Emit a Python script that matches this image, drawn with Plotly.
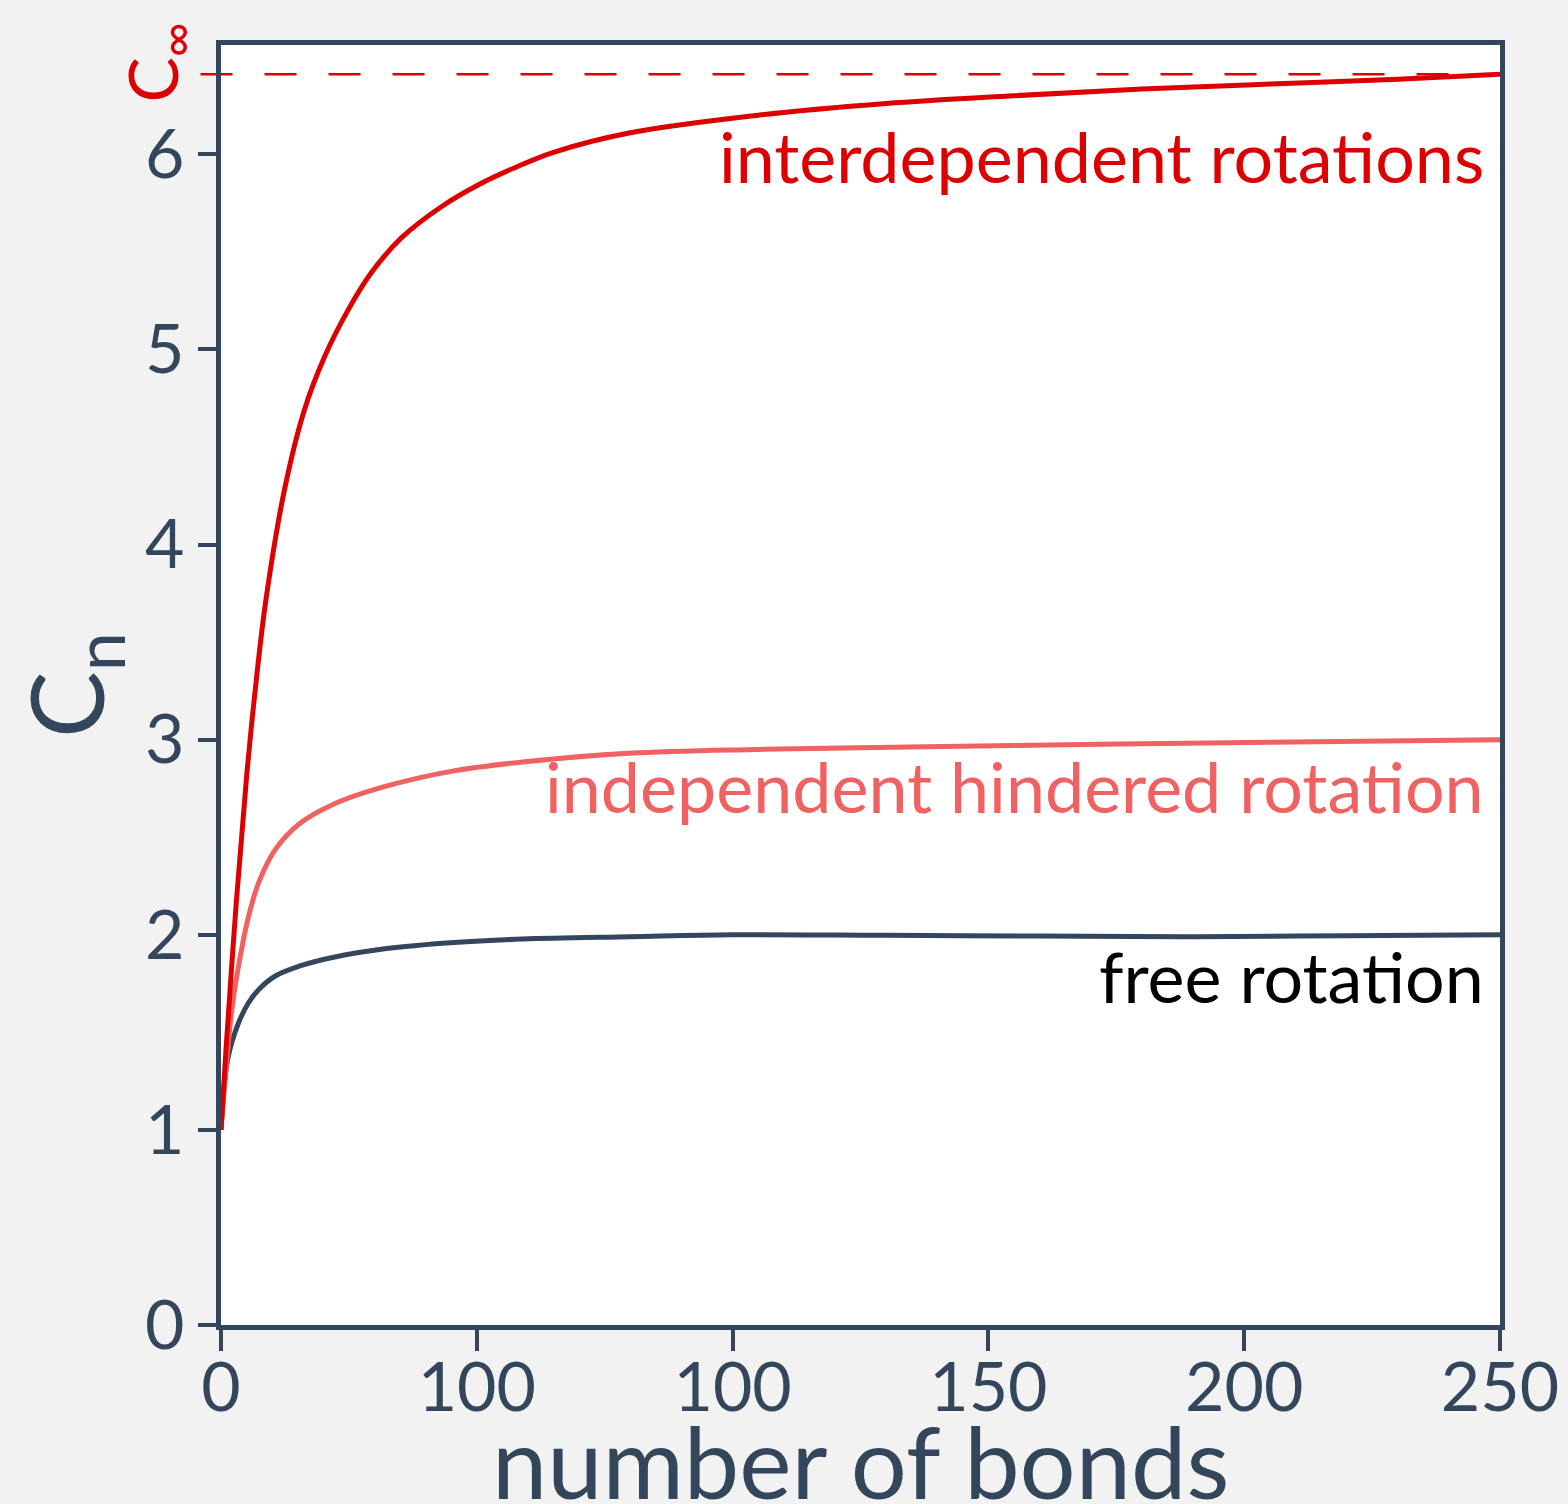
import plotly.graph_objects as go

# data
free_x = [0, 1.3, 3.3, 5.35, 7.4, 10.7, 15.4, 22, 32, 45.5, 59, 80, 100, 130, 160, 190, 220, 250]
free_y = [1.0, 1.36, 1.54, 1.65, 1.72, 1.79, 1.84, 1.885, 1.928, 1.96, 1.978, 1.99, 2.0, 1.997, 1.993, 1.99, 1.995, 2.0]

hind_x = [0, 2.0, 3.3, 5.35, 7.4, 10.7, 15.4, 22.1, 32.1, 45.5, 58.9, 79.7, 105, 155, 205, 250]
hind_y = [1.0, 1.59, 1.82, 2.09, 2.27, 2.44, 2.57, 2.67, 2.76, 2.84, 2.885, 2.93, 2.95, 2.97, 2.987, 3.0]

inter_x = [0, 1, 3, 5, 7, 8.8, 12.4, 16.3, 20.2, 24.8, 29.3, 35.2, 43.0, 50.8, 57.3, 65, 80, 105, 130,
           155, 180, 205, 230, 250]
inter_y = [1.0, 1.42, 2.17, 2.81, 3.33, 3.72, 4.28, 4.69, 4.96, 5.20, 5.39, 5.57, 5.73, 5.85, 5.93, 6.01, 6.11, 6.20,
           6.26, 6.30, 6.335, 6.36, 6.385, 6.41]

c_inf = 6.41

x_tickvals = [0, 50, 100, 150, 200, 250]
x_ticktext = ["0", "100", "100", "150", "200", "250"]
y_tickvals = [0, 1, 2, 3, 4, 5, 6]

DARK = "#34465c"
RED = "#dd0000"
PINK = "#f06262"
FONT = "Lato"

fig = go.Figure()
fig.add_trace(go.Scatter(x=free_x, y=free_y, mode="lines",
                         line=dict(color=DARK, width=5, shape="spline", smoothing=1.0), showlegend=False))
fig.add_trace(go.Scatter(x=hind_x, y=hind_y, mode="lines",
                         line=dict(color=PINK, width=5, shape="spline", smoothing=1.0), showlegend=False))
fig.add_trace(go.Scatter(x=inter_x, y=inter_y, mode="lines",
                         line=dict(color=RED, width=5, shape="spline", smoothing=1.0), showlegend=False))

fig.add_shape(type="line", xref="paper", yref="y", x0=-0.016, x1=1.0, y0=c_inf, y1=c_inf,
              line=dict(color=RED, width=2.5, dash="32px,32px"), layer="below")

fig.add_annotation(x=246.5, y=5.99, xref="x", yref="y", text="interdependent rotations", showarrow=False,
                   xanchor="right", yanchor="middle", xshift=4, font=dict(family=FONT, size=70, color=RED))
fig.add_annotation(x=246.5, y=2.76, xref="x", yref="y", text="independent hindered rotation", showarrow=False,
                   xanchor="right", yanchor="middle", xshift=4, font=dict(family=FONT, size=70, color=PINK))
fig.add_annotation(x=246.5, y=1.79, xref="x", yref="y", text="free rotation", showarrow=False,
                   xanchor="right", yanchor="middle", xshift=4, font=dict(family=FONT, size=70, color="#000000"))
fig.add_annotation(x=-0.05, y=6.47, xref="paper", yref="y", text="C<sub>∞</sub>", showarrow=False,
                   textangle=-90, xanchor="center", yanchor="middle", font=dict(family=FONT, size=68, color=RED))
fig.add_annotation(x=0.5, y=-0.1055, xref="paper", yref="paper", text="number of bonds", showarrow=False,
                   xanchor="center", yanchor="middle", font=dict(family=FONT, size=99, color=DARK))

fig.update_layout(
    width=1568, height=1504,
    paper_bgcolor="#f2f2f2", plot_bgcolor="#ffffff",
    margin=dict(l=221, r=68, t=45, b=179),
    font=dict(family=FONT, color=DARK),
    xaxis=dict(range=[0, 250], tickvals=x_tickvals, ticktext=x_ticktext, showgrid=False, zeroline=False,
               showline=True, linecolor=DARK, linewidth=5, mirror=True, ticks="outside", ticklen=21,
               tickwidth=4, tickcolor=DARK, tickfont=dict(size=68, color=DARK, family=FONT),
               ticklabelstandoff=-22, automargin=False),
    yaxis=dict(range=[0, 6.56], tickvals=y_tickvals, showgrid=False, zeroline=False,
               showline=True, linecolor=DARK, linewidth=5, mirror=True, ticks="outside", ticklen=18,
               tickwidth=4, tickcolor=DARK, tickfont=dict(size=68, color=DARK, family=FONT), automargin=False,
               title=dict(text="C<sub>n</sub>", font=dict(size=100, color=DARK, family=FONT), standoff=8)),
)

fig.write_html("out.html", config={"displayModeBar": False},
               post_script="document.body.style.margin='0';document.body.style.background='#f2f2f2';")
